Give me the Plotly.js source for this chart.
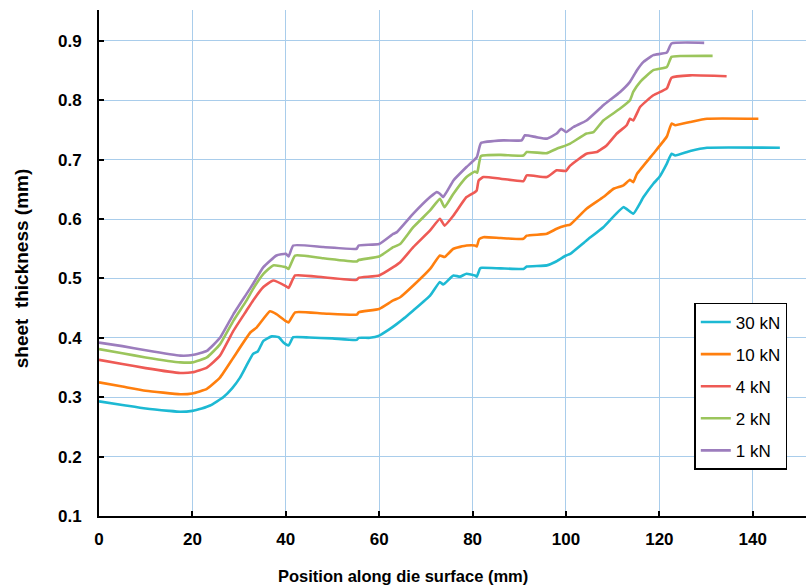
<!DOCTYPE html>
<html>
<head>
<meta charset="utf-8">
<script src="https://cdn.plot.ly/plotly-3.0.1.min.js"></script>
<style>html,body{margin:0;padding:0;background:#fff}#chart{width:806px;height:588px}</style>
</head>
<body>
<div id="chart"></div>
<script>
const seriesNames = ["30 kN", "10 kN", "4 kN", "2 kN", "1 kN"];

const x30 = [0, 5, 10, 15, 17.4, 20, 22, 23.8, 26.6, 28.5, 30.2, 31.5, 33, 34, 35.2, 37, 38.5, 39.5, 40.6, 41.6, 45, 50, 55.2, 55.6, 58, 60, 62.3, 63.8, 65.5, 67.3, 70.9, 73, 73.7, 75.9, 77.3, 78.7, 80.5, 80.9, 81.6, 82, 86, 90.9, 91.6, 95.9, 98, 100, 100.9, 104.4, 108, 112.3, 114.4, 116.6, 118.7, 120, 121.6, 122.6, 123.4, 126.6, 130.2, 145.8];
const y30 = [0.293, 0.287, 0.281, 0.277, 0.2755, 0.277, 0.281, 0.286, 0.300, 0.315, 0.333, 0.352, 0.373, 0.377, 0.395, 0.4025, 0.401, 0.392, 0.387, 0.401, 0.4005, 0.399, 0.3965, 0.400, 0.400, 0.4037, 0.415, 0.4235, 0.434, 0.446, 0.471, 0.494, 0.4897, 0.505, 0.503, 0.508, 0.505, 0.503, 0.517, 0.518, 0.517, 0.516, 0.520, 0.522, 0.529, 0.5386, 0.5415, 0.564, 0.5863, 0.620, 0.609, 0.637, 0.6595, 0.6707, 0.6933, 0.710, 0.707, 0.7145, 0.720, 0.720];

const x10 = [0, 5, 10, 17.4, 20, 23.1, 25.9, 28.8, 32.4, 33.8, 36.6, 38, 40, 40.6, 42, 48, 55.2, 55.6, 60, 63, 64.5, 67.3, 70.9, 73, 74, 75.9, 78.7, 80.5, 80.9, 81.4, 82.3, 86, 90.9, 91.6, 95.9, 98, 100, 100.9, 104.4, 108, 110.2, 112.3, 113.7, 114.4, 115.2, 118.7, 121.6, 122.6, 123.4, 126.6, 130.2, 141.2];
const y10 = [0.325, 0.318, 0.311, 0.305, 0.3064, 0.314, 0.333, 0.367, 0.409, 0.4177, 0.4447, 0.440, 0.428, 0.426, 0.443, 0.441, 0.439, 0.443, 0.4487, 0.463, 0.4683, 0.488, 0.516, 0.5386, 0.536, 0.550, 0.5555, 0.5555, 0.5538, 0.566, 0.5695, 0.568, 0.5668, 0.572, 0.5752, 0.5836, 0.589, 0.5907, 0.6174, 0.637, 0.651, 0.6567, 0.666, 0.662, 0.676, 0.710, 0.739, 0.7607, 0.758, 0.7635, 0.769, 0.769];

const x4 = [0, 5, 10, 17.4, 20, 23.1, 25.9, 28.8, 31.6, 33, 35.2, 37.3, 40, 40.6, 42, 48, 55.2, 55.6, 60, 63, 64.5, 67.3, 70.9, 73, 74, 75.9, 78.7, 80.5, 80.9, 81.3, 82.3, 86, 90.9, 91.6, 95.9, 98, 100, 100.9, 104.4, 106.6, 108.7, 110.9, 113, 113.7, 114.4, 115.9, 118.7, 121.6, 122.6, 126.6, 134.4];
const y4 = [0.363, 0.356, 0.349, 0.3408, 0.342, 0.350, 0.370, 0.412, 0.446, 0.463, 0.4855, 0.4965, 0.487, 0.484, 0.505, 0.502, 0.4977, 0.501, 0.505, 0.519, 0.5273, 0.5526, 0.5808, 0.6005, 0.589, 0.606, 0.637, 0.6454, 0.6483, 0.665, 0.6707, 0.668, 0.664, 0.6735, 0.6707, 0.682, 0.681, 0.690, 0.710, 0.7128, 0.724, 0.744, 0.758, 0.769, 0.766, 0.789, 0.8084, 0.820, 0.838, 0.842, 0.8405];

const x2 = [0, 5, 10, 17.4, 20, 23.1, 25.9, 28.8, 31.6, 33, 35.2, 37.3, 40, 40.6, 42, 48, 55.2, 55.6, 60, 63, 64.5, 67.3, 70.9, 73, 74, 75.9, 78.7, 80.5, 81, 81.8, 86, 90.9, 91.6, 95.9, 98, 100, 100.9, 104.4, 105.9, 108, 111.6, 113.7, 114.4, 115.9, 118.7, 121.6, 122.6, 124.7, 131.4];
const y2 = [0.381, 0.374, 0.367, 0.3587, 0.3587, 0.367, 0.389, 0.429, 0.463, 0.4825, 0.5077, 0.522, 0.519, 0.516, 0.5386, 0.534, 0.5285, 0.531, 0.537, 0.5526, 0.558, 0.5863, 0.6145, 0.634, 0.620, 0.6427, 0.6707, 0.680, 0.678, 0.706, 0.708, 0.707, 0.7128, 0.711, 0.7185, 0.724, 0.727, 0.744, 0.7465, 0.766, 0.786, 0.800, 0.814, 0.831, 0.8506, 0.856, 0.873, 0.8745, 0.8747];

const x1 = [0, 5, 10, 17.4, 20, 23.1, 25.9, 28.8, 31.6, 33, 35.2, 38, 40, 40.6, 41.6, 48, 55.2, 55.6, 60, 63, 63.8, 67.3, 70.9, 72.3, 73, 73.7, 75.9, 78.7, 80.9, 81.8, 86.6, 90.5, 91.2, 93.6, 95.9, 98, 99, 100, 101.6, 104.4, 108, 111.6, 113.7, 115.2, 116.6, 118.7, 121.6, 122.6, 129.6];
const y1 = [0.392, 0.386, 0.379, 0.370, 0.371, 0.378, 0.400, 0.440, 0.474, 0.491, 0.519, 0.5386, 0.5415, 0.537, 0.5555, 0.553, 0.550, 0.5555, 0.558, 0.575, 0.578, 0.609, 0.637, 0.6454, 0.6427, 0.637, 0.665, 0.6876, 0.704, 0.728, 0.7325, 0.7325, 0.741, 0.738, 0.7354, 0.744, 0.752, 0.7465, 0.755, 0.766, 0.7916, 0.814, 0.831, 0.8506, 0.8646, 0.876, 0.8804, 0.8956, 0.8967];

const xTicks = [0, 20, 40, 60, 80, 100, 120, 140];
const yTicks = [0.1, 0.2, 0.3, 0.4, 0.5, 0.6, 0.7, 0.8, 0.9];
const xTitle = "Position along die surface (mm)";
const yTitle = "sheet  thickness (mm)";

const xs = [x30, x10, x4, x2, x1];
const ys = [y30, y10, y4, y2, y1];
const colors = ["#1DB9D3", "#FF7F0E", "#EE5A55", "#9BC55C", "#9C7DBD"];

const FONT = "'Liberation Sans', Arial, sans-serif";

const traces = seriesNames.map((n, i) => ({
  type: "scatter", mode: "lines", name: n,
  x: xs[i], y: ys[i], legendgroup: "g" + i,
  line: {color: colors[i], width: 2.6, shape: "spline", smoothing: 0.4}
}));

const layout = {
  width: 806, height: 588,
  paper_bgcolor: "#fff", plot_bgcolor: "#fff",
  margin: {l: 99, r: 0, t: 10, b: 72},
  font: {family: FONT, color: "#000"},
  showlegend: true,
  legend: {
    x: 0.842, y: 0.421, xanchor: "left", yanchor: "top",
    bgcolor: "#fff", bordercolor: "#000", borderwidth: 1.5,
    font: {family: FONT, size: 17, color: "#000"},
    tracegroupgap: 7, traceorder: "grouped"
  },
  xaxis: {
    range: [0, 151.4], tickvals: xTicks, ticktext: xTicks.map(String),
    showgrid: true, gridcolor: "#A9CDEB", gridwidth: 1,
    showline: true, linecolor: "#000", linewidth: 2, zeroline: false,
    ticks: "inside", ticklen: 5, tickwidth: 2, tickcolor: "#000",
    tickfont: {family: FONT, size: 17, weight: "bold", color: "#000"},
    ticklabelstandoff: 7
  },
  yaxis: {
    range: [0.1, 0.952], tickvals: yTicks, ticktext: yTicks.map(v => v.toFixed(1)),
    showgrid: true, gridcolor: "#A9CDEB", gridwidth: 1,
    showline: true, linecolor: "#000", linewidth: 2, zeroline: false,
    ticks: "inside", ticklen: 5, tickwidth: 2, tickcolor: "#000",
    tickfont: {family: FONT, size: 17, weight: "bold", color: "#000"},
    ticklabelstandoff: 12
  },
  annotations: [
    {text: xTitle, xref: "paper", yref: "paper", x: 0.4293, y: -0.1177,
     xanchor: "center", yanchor: "middle", showarrow: false,
     font: {family: FONT, size: 16.5, weight: "bold", color: "#000"}},
    {text: yTitle, xref: "paper", yref: "paper", x: -0.1103, y: 0.4896,
     xanchor: "center", yanchor: "middle", showarrow: false, textangle: -90,
     font: {family: FONT, size: 19, weight: "bold", color: "#000"}}
  ]
};

Plotly.newPlot("chart", traces, layout, {displayModeBar: false, staticPlot: true});
</script>
</body>
</html>
